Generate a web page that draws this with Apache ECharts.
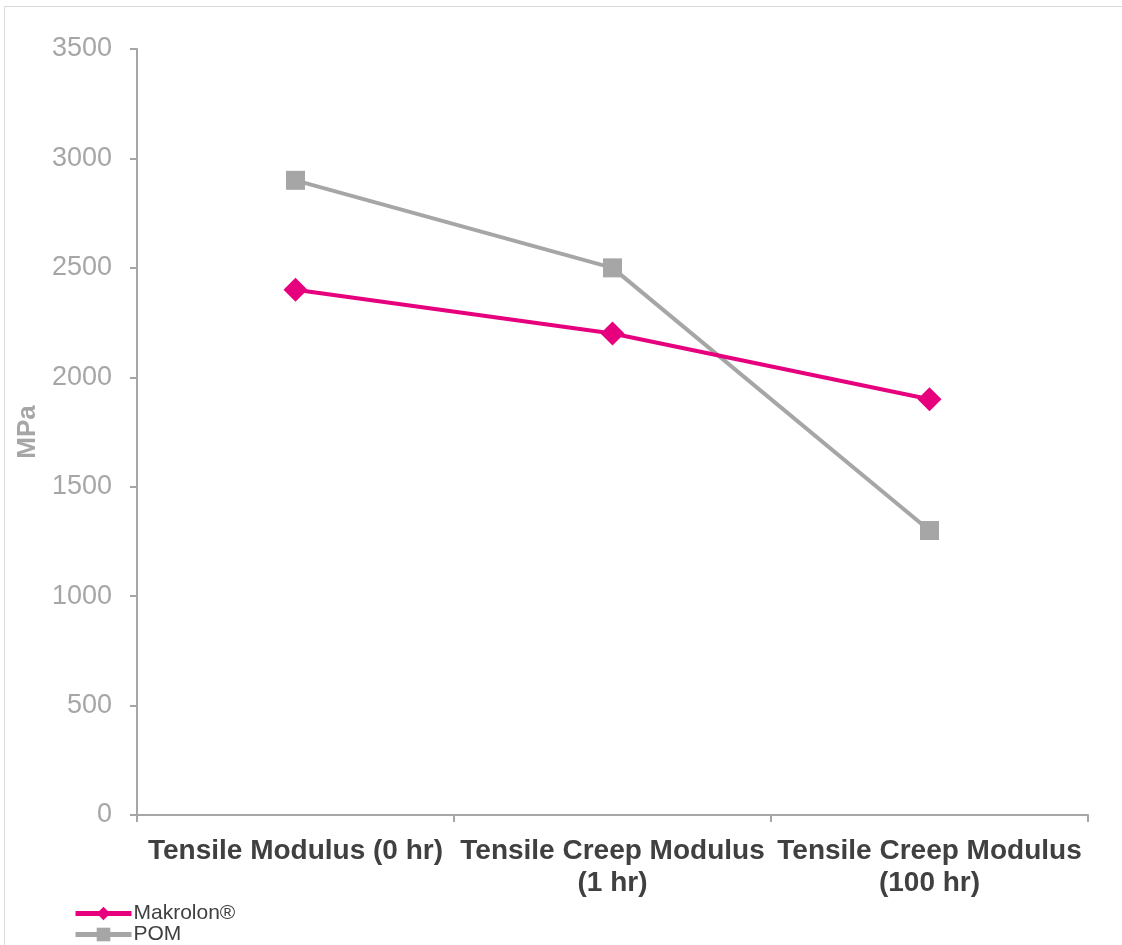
<!DOCTYPE html>
<html><head><meta charset="utf-8">
<script src="https://cdn.jsdelivr.net/npm/echarts@6/dist/echarts.min.js"></script>
<style>html,body{margin:0;padding:0;background:#fff}#c{width:1122px;height:945px}</style>
</head><body><div id="c"></div>
<script>
const categories = ['Tensile Modulus (0 hr)', 'Tensile Creep Modulus\n(1 hr)', 'Tensile Creep Modulus\n(100 hr)'];
const makrolon = [2400, 2200, 1900];
const pom = [2900, 2500, 1300];
const yTicks = {min: 0, max: 3500, interval: 500};
const font = 'Liberation Sans, Arial, sans-serif';
const legendCommon = {
  orient: 'horizontal', left: 73, padding: 0, itemWidth: 56, itemHeight: 17, itemGap: 0,
  lineStyle: {width: 5},
  textStyle: {fontFamily: font, fontSize: 21, color: '#404040', padding: [0, 0, 0, -3]}
};
const chart = echarts.init(document.getElementById('c'));
chart.setOption({
  animation: false,
  backgroundColor: '#fff',
  graphic: [{type: 'rect', shape: {x: 4.5, y: 6.5, width: 1200, height: 1000}, style: {fill: 'none', stroke: '#D9D9D9', lineWidth: 1}}],
  grid: {left: 137, right: 34, top: 49, bottom: 130},
  legend: [
    Object.assign({}, legendCommon, {top: 903, data: ['Makrolon®']}),
    Object.assign({}, legendCommon, {top: 924, data: ['POM']})
  ],
  xAxis: {
    type: 'category', data: categories, boundaryGap: true,
    axisLine: {lineStyle: {color: '#A6A6A6', width: 2}},
    axisTick: {show: true, length: 7, alignWithLabel: false, lineStyle: {color: '#A6A6A6', width: 2}},
    axisLabel: {interval: 0, margin: 20, fontFamily: font, fontSize: 28, fontWeight: 'bold', color: '#404040', lineHeight: 32}
  },
  yAxis: {
    type: 'value', min: yTicks.min, max: yTicks.max, interval: yTicks.interval,
    name: 'MPa', nameLocation: 'middle', nameGap: 94,
    nameTextStyle: {fontFamily: font, fontSize: 26, fontWeight: 'bold', color: '#A6A6A6'},
    axisLine: {show: true, lineStyle: {color: '#A6A6A6', width: 2}},
    axisTick: {show: true, length: 7, lineStyle: {color: '#A6A6A6', width: 2}},
    splitLine: {show: false},
    axisLabel: {margin: 25, fontFamily: font, fontSize: 27, color: '#A6A6A6', formatter: v => String(v)}
  },
  series: [
    {name: 'Makrolon®', type: 'line', data: makrolon, color: '#E6007E', symbol: 'diamond', symbolSize: 24,
     lineStyle: {width: 4, color: '#E6007E'}, itemStyle: {color: '#E6007E'}, z: 3},
    {name: 'POM', type: 'line', data: pom, color: '#A6A6A6', symbol: 'rect', symbolSize: 19,
     lineStyle: {width: 4, color: '#A6A6A6'}, itemStyle: {color: '#A6A6A6'}, z: 2}
  ]
});
</script></body></html>
